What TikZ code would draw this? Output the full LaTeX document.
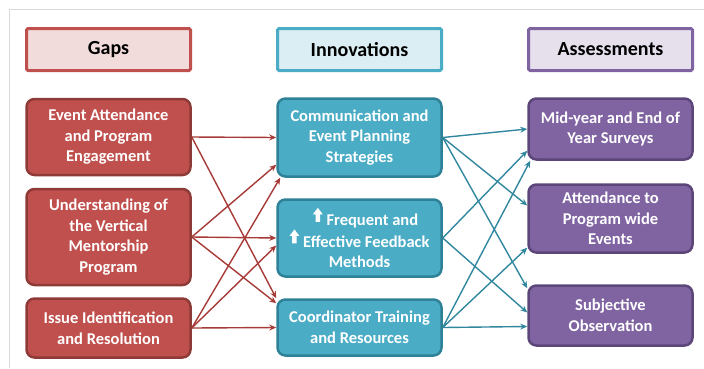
\documentclass[tikz,border=0pt]{standalone}
\usepackage{fontspec}
\setmainfont{Carlito}
\usetikzlibrary{arrows.meta}

\definecolor{gapred}{HTML}{C0504D}
\definecolor{gapdark}{HTML}{8E3A37}
\definecolor{gaplight}{HTML}{F2DCDB}
\definecolor{innblue}{HTML}{4BACC6}
\definecolor{inndark}{HTML}{2E8196}
\definecolor{innlight}{HTML}{DBEEF4}
\definecolor{asspurple}{HTML}{8064A2}
\definecolor{assdark}{HTML}{5C4679}
\definecolor{asslight}{HTML}{E5E0EC}
\definecolor{redarrow}{HTML}{A63A37}
\definecolor{bluearrow}{HTML}{31879E}

\newcommand{\uparr}{\raisebox{4pt}{\tikz[sharp corners,x=1pt,y=1pt]\fill[white] (-2.3,0) -- (2.3,0) -- (2.3,7.5) -- (5,7.5) -- (0,14) -- (-5,7.5) -- (-2.3,7.5) -- cycle;}}

\begin{document}
\begin{tikzpicture}[x=1pt,y=-1pt,
  header/.style={draw=#1, line width=3pt, rounded corners=1.5pt, minimum width=164pt, minimum height=42pt,
    font=\fontsize{20}{24}\selectfont\bfseries, text=black},
  box/.style={fill=#1, line width=2.5pt, rounded corners=8pt, minimum width=164pt, align=center,
    font=\fontsize{16.5}{20.5}\selectfont\bfseries, text=white},
  redlink/.style={draw=redarrow, line width=1.4pt, -{Stealth[length=7pt,width=6pt]}},
  bluelink/.style={draw=bluearrow, line width=1.4pt, -{Stealth[length=7pt,width=6pt]}}]

\useasboundingbox (0,0) rectangle (704,368);
\draw[gray!30, line width=1pt] (9.5,368) -- (9.5,9.5) -- (704,9.5);

% column headers
\node[header=gapred, fill=gaplight] (gaps) at (108.5,49.5) {Gaps};
\node[header=innblue, fill=innlight] (innovations) at (359.5,49.5) {Innovations};
\node[header=asspurple, fill=asslight] (assessments) at (610.5,49.5) {Assessments};

% gaps
\node[box=gapred, draw=gapdark, minimum height=76pt] (gap1) at (108.5,137) {Event Attendance\\and Program\\Engagement};
\node[box=gapred, draw=gapdark, minimum height=96pt] (gap2) at (108.5,237) {Understanding of\\the Vertical\\Mentorship\\Program};
\node[box=gapred, draw=gapdark, minimum height=59pt] (gap3) at (108.5,328) {Issue Identification\\and Resolution};

% innovations
\node[box=innblue, draw=inndark, minimum height=78pt] (inn1) at (359.5,137.5) {Communication and\\Event Planning\\Strategies};
\node[box=innblue, draw=inndark, minimum height=77pt] (inn2) at (359.5,238) {\hspace*{12pt}\uparr\ Frequent and\\\uparr\ Effective Feedback\\Methods};
\node[box=innblue, draw=inndark, minimum height=56pt] (inn3) at (359.5,327.5) {Coordinator Training\\and Resources};

% assessments
\node[box=asspurple, draw=assdark, minimum height=61pt] (ass1) at (610.5,129) {Mid-year and End of\\Year Surveys};
\node[box=asspurple, draw=assdark, minimum height=68pt] (ass2) at (610.5,218.5) {Attendance to\\Program wide\\Events};
\node[box=asspurple, draw=assdark, minimum height=60pt] (ass3) at (610.5,315.5) {Subjective\\Observation};

% gaps -> innovations
\draw[redlink] (gap1.east) -- (inn1.west);
\draw[redlink] (gap1.east) -- (inn3.north west);
\draw[redlink] (gap2.east) -- ([yshift=13pt]inn1.south west);
\draw[redlink] (gap2.east) -- (inn2.west);
\draw[redlink] (gap2.east) -- ([yshift=-5pt]inn3.north west);
\draw[redlink] (gap3.east) -- ([xshift=4pt]inn1.south west);
\draw[redlink] (gap3.east) -- ([yshift=-7.5pt]inn2.west);
\draw[redlink] (gap3.east) -- (inn3.west);

% innovations -> assessments
\draw[bluelink] (inn1.east) -- (ass1.west);
\draw[bluelink] (inn1.east) -- ([yshift=13pt]ass2.west);
\draw[bluelink] (inn1.east) -- ([yshift=-4pt]ass3.north west);
\draw[bluelink] (inn2.east) -- ([yshift=10pt]ass1.south west);
\draw[bluelink] (inn2.east) -- ([yshift=3pt]ass3.west);
\draw[bluelink] (inn3.east) -- ([xshift=3pt]ass1.south west);
\draw[bluelink] (inn3.east) -- ([yshift=6pt]ass2.south west);
\draw[bluelink] (inn3.east) -- ([yshift=-11pt]ass3.west);

\end{tikzpicture}
\end{document}
